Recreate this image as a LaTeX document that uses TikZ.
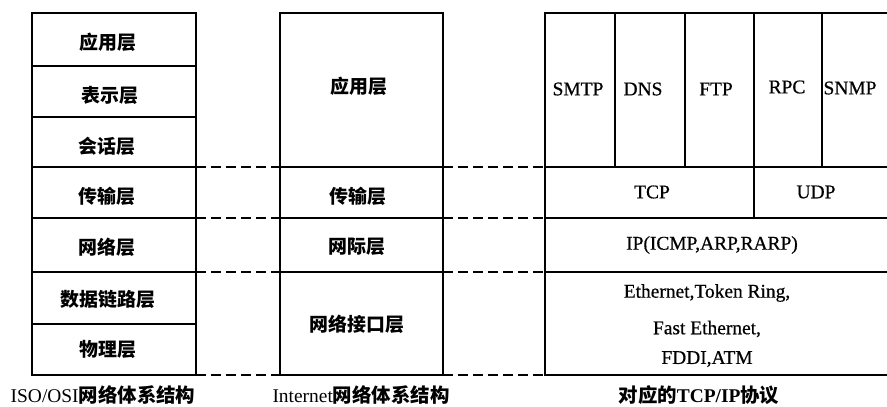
\documentclass[tikz,border=0pt]{standalone}
\usepackage{fontspec}
\setmainfont{Liberation Serif}
\newfontfamily\heavyserif{Liberation Serif}[FakeBold=0.6]
\newfontfamily\cjk{Noto Sans CJK SC}
\begin{document}
\begin{tikzpicture}[x=1bp,y=-1bp,
  box/.style={line width=2.2bp},
  dashline/.style={line width=2bp, dash pattern=on 10bp off 5bp},
  zh/.style={font=\cjk\bfseries\fontsize{19}{22}\selectfont, inner sep=0pt},
  en/.style={font=\heavyserif\fontsize{19.5}{22}\selectfont, inner sep=0pt},
  captext/.style={font=\fontsize{19.5}{22}\selectfont, inner sep=0pt}]
\useasboundingbox (0,0) rectangle (887,406);

% ---------- left column: ISO/OSI ----------
\draw[box] (32,13) rectangle (196,375);
\foreach \y in {66,117,167,218,272,324} \draw[box] (32,\y) -- (196,\y);
\node[zh] (o7) at (108,42) {应用层};
\node[zh] (o6) at (110,95) {表示层};
\node[zh] (o5) at (107,146) {会话层};
\node[zh] (o4) at (107,196) {传输层};
\node[zh] (o3) at (107,247) {网络层};
\node[zh] (o2) at (108,299) {数据链路层};
\node[zh] (o1) at (108,349) {物理层};

% ---------- middle column: Internet ----------
\draw[box] (280,13) rectangle (443,375);
\foreach \y in {167,218,272} \draw[box] (280,\y) -- (443,\y);
\node[zh] (i4) at (359,86) {应用层};
\node[zh] (i3) at (358,196) {传输层};
\node[zh] (i2) at (357,247) {网际层};
\node[zh] (i1) at (357,324) {网络接口层};

% ---------- right column: TCP/IP protocols ----------
\draw[box] (892,13) -- (545,13) -- (545,375) -- (892,375);
\foreach \y in {167,218,272} \draw[box] (545,\y) -- (892,\y);
\foreach \x in {615,685,754,822} \draw[box] (\x,13) -- (\x,167);
\draw[box] (754,167) -- (754,218);
\node[en] (smtp) at (578,89) {SMTP};
\node[en] (dns)  at (643,89) {DNS};
\node[en] (ftp)  at (716,89) {FTP};
\node[en] (rpc)  at (787,87) {RPC};
\node[en] (snmp) at (850,88) {SNMP};
\node[en] (tcp)  at (652,192) {TCP};
\node[en] (udp)  at (816,192) {UDP};
\node[en] (ip)   at (712,245) {IP(ICMP,ARP,RARP)};
\node[en] (eth1) at (707,293) {Ethernet,Token Ring,};
\node[en] (eth2) at (707,329) {Fast Ethernet,};
\node[en] (eth3) at (707,359) {FDDI,ATM};

% ---------- dashed level correspondences ----------
\foreach \y [count=\i] in {167,218,272,375} {
  \coordinate (La\i) at (196,\y);
  \coordinate (Mw\i) at (280,\y);
  \coordinate (Me\i) at (443,\y);
  \coordinate (Rw\i) at (545,\y);
  \draw[dashline] (La\i) -- (Mw\i);
  \draw[dashline] (Me\i) -- (Rw\i);
}

% ---------- captions ----------
\node[captext] (c1) at (103,395) {ISO/OSI{\cjk\bfseries 网络体系结构}};
\node[captext] (c2) at (361,395) {Internet{\cjk\bfseries 网络体系结构}};
\node[captext] (c3) at (699,395) {{\cjk\bfseries 对应的}\textbf{TCP/IP}{\cjk\bfseries 协议}};
\end{tikzpicture}
\end{document}
